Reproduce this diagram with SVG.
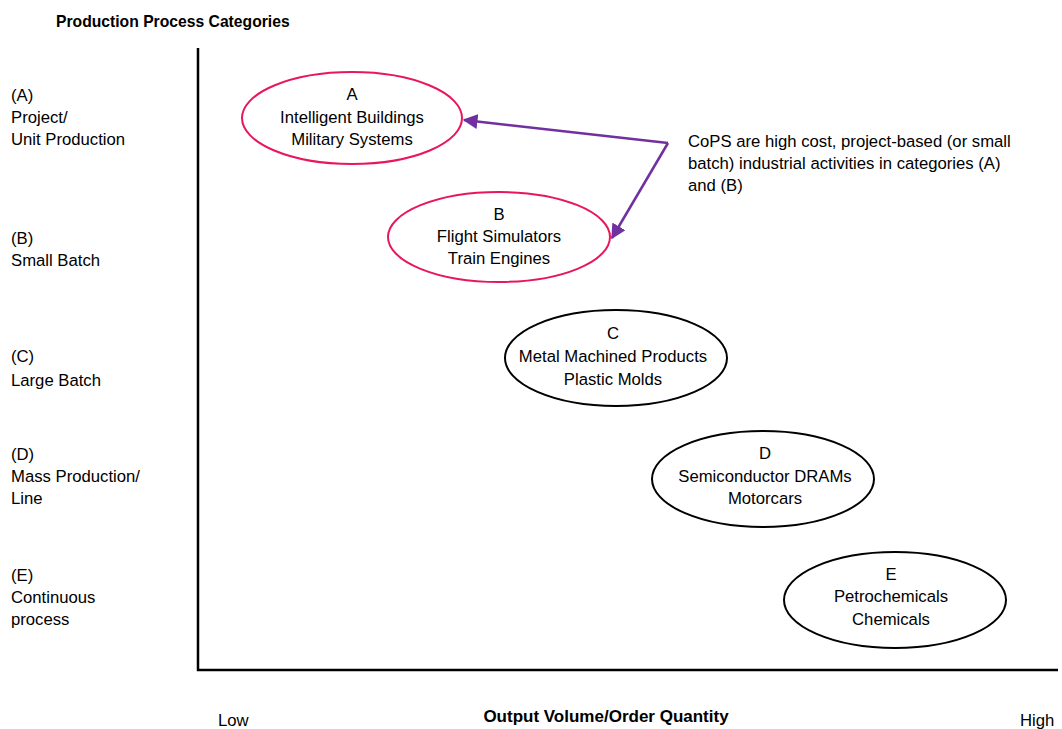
<svg xmlns="http://www.w3.org/2000/svg" width="1062" height="729" viewBox="0 0 1062 729">
  <style>
    text { font-family: "Liberation Sans", Arial, sans-serif; font-size: 16.7px; fill: #000; }
    .bold { font-weight: bold; font-size: 15.7px; }
    .axis-title { font-size: 17px; }
    .mid { text-anchor: middle; }
    .pink { fill: none; stroke: #E8175D; stroke-width: 2; }
    .black { fill: none; stroke: #000; stroke-width: 2; }
    .axis { stroke: #000; stroke-width: 2.5; fill: none; }
    .link { stroke: #7030A0; stroke-width: 2.5; fill: none; }
  </style>
  <defs>
    <marker id="arrow" viewBox="0 0 10 10" refX="9" refY="5" markerWidth="6" markerHeight="6" markerUnits="strokeWidth" orient="auto">
      <path d="M0,0 L10,5 L0,10 Z" fill="#7030A0"/>
    </marker>
  </defs>

  <rect width="1062" height="729" fill="#fff"/>

  <text class="bold" x="56" y="27">Production Process Categories</text>

  <!-- axes -->
  <g id="axes">
    <path class="axis" d="M198,48 L198,670 L1058,670"/>
  </g>

  <!-- category labels -->
  <g id="categories">
    <text x="11" y="101">(A)</text>
    <text x="11" y="123">Project/</text>
    <text x="11" y="145">Unit Production</text>
    <text x="11" y="244">(B)</text>
    <text x="11" y="266">Small Batch</text>
    <text x="11" y="362">(C)</text>
    <text x="11" y="386">Large Batch</text>
    <text x="11" y="460">(D)</text>
    <text x="11" y="482">Mass Production/</text>
    <text x="11" y="504">Line</text>
    <text x="11" y="581">(E)</text>
    <text x="11" y="603">Continuous</text>
    <text x="11" y="625">process</text>
  </g>

  <g id="nodeA">
    <ellipse class="pink" cx="352" cy="118" rx="110" ry="46"/>
    <text class="mid" x="352" y="100">A</text>
    <text class="mid" x="352" y="123">Intelligent Buildings</text>
    <text class="mid" x="352" y="145">Military Systems</text>
  </g>

  <g id="nodeB">
    <ellipse class="pink" cx="499" cy="237" rx="111" ry="45"/>
    <text class="mid" x="499" y="220">B</text>
    <text class="mid" x="499" y="242">Flight Simulators</text>
    <text class="mid" x="499" y="264">Train Engines</text>
  </g>

  <g id="nodeC">
    <ellipse class="black" cx="616" cy="358" rx="111" ry="48"/>
    <text class="mid" x="613" y="339">C</text>
    <text class="mid" x="613" y="362">Metal Machined Products</text>
    <text class="mid" x="613" y="385">Plastic Molds</text>
  </g>

  <g id="nodeD">
    <ellipse class="black" cx="763" cy="479" rx="111" ry="48"/>
    <text class="mid" x="765" y="459">D</text>
    <text class="mid" x="765" y="482">Semiconductor DRAMs</text>
    <text class="mid" x="765" y="504">Motorcars</text>
  </g>

  <g id="nodeE">
    <ellipse class="black" cx="895" cy="600" rx="111" ry="48"/>
    <text class="mid" x="891" y="580">E</text>
    <text class="mid" x="891" y="602">Petrochemicals</text>
    <text class="mid" x="891" y="625">Chemicals</text>
  </g>

  <g id="note">
    <text x="688" y="147">CoPS are high cost, project-based (or small</text>
    <text x="688" y="169">batch) industrial activities in categories (A)</text>
    <text x="688" y="191">and (B)</text>
  </g>

  <!-- connectors from the note to A and B -->
  <g id="connectors">
    <path class="link" d="M668,143 L464,120" marker-end="url(#arrow)"/>
    <path class="link" d="M668,143 L612,238" marker-end="url(#arrow)"/>
  </g>

  <g id="x-labels">
    <text x="218" y="726">Low</text>
    <text class="bold mid axis-title" x="606" y="722">Output Volume/Order Quantity</text>
    <text x="1020" y="726">High</text>
  </g>
</svg>
